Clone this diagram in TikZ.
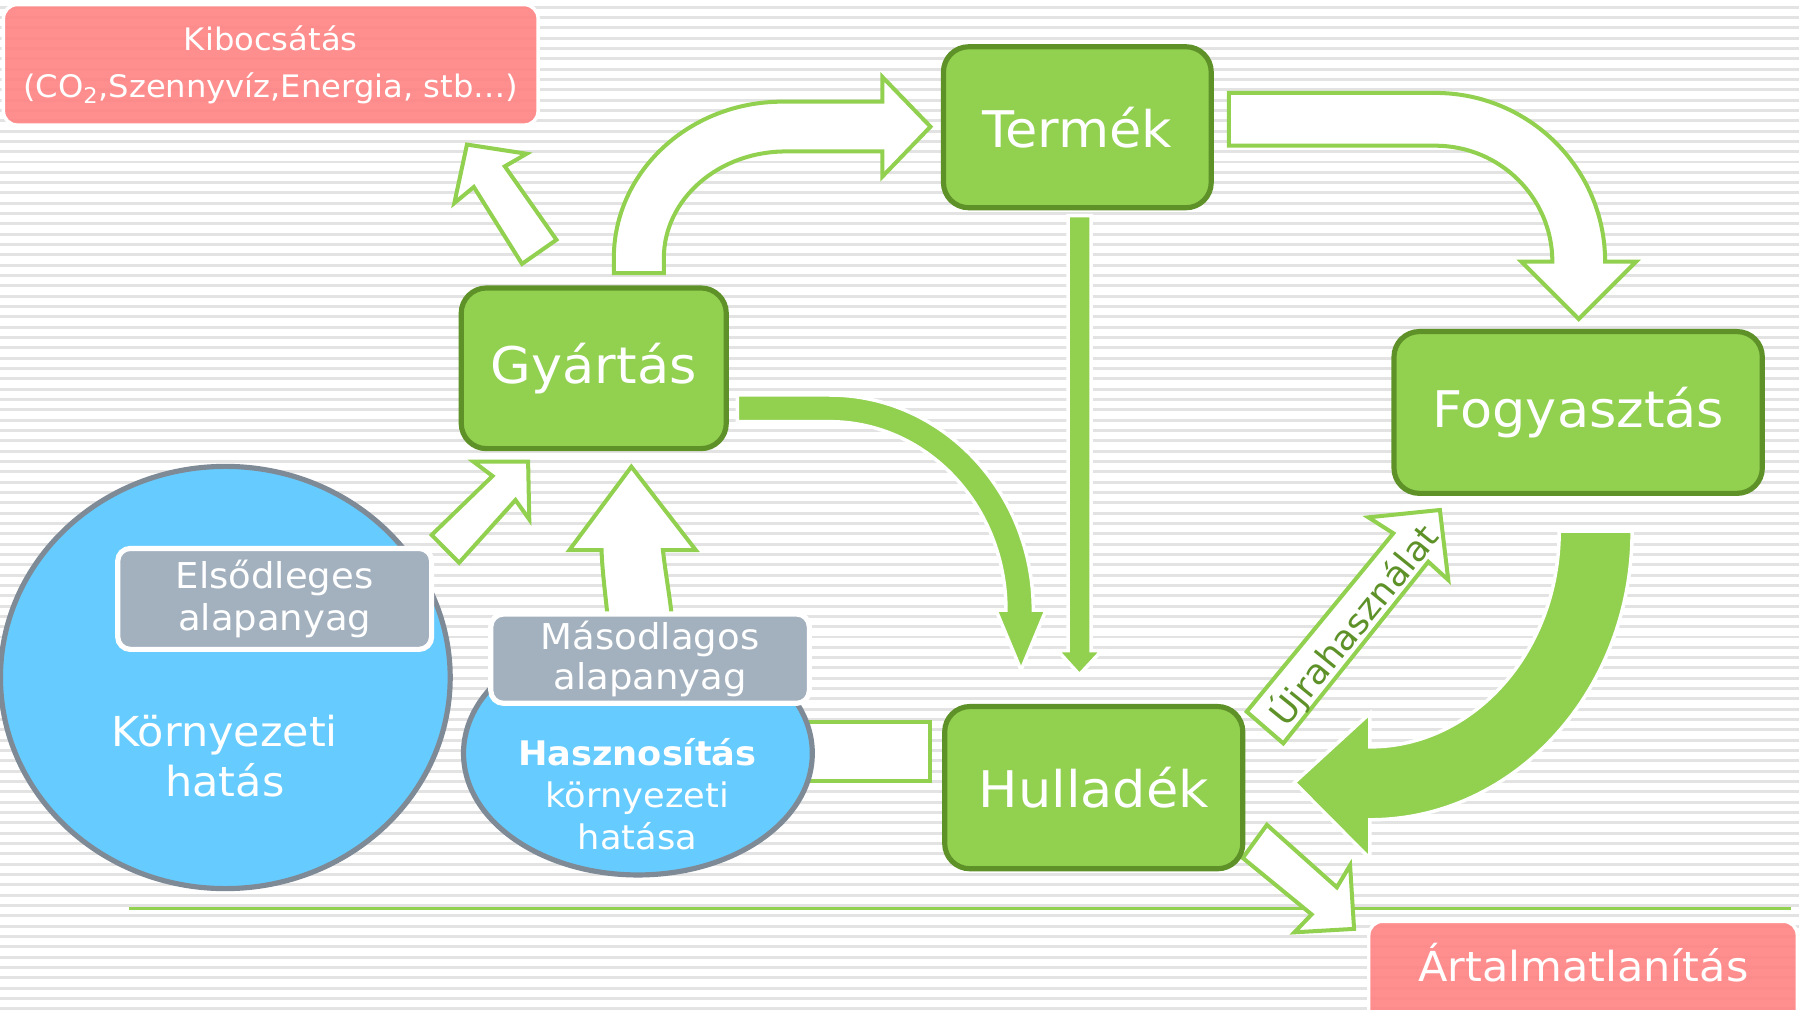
\documentclass[tikz,border=0pt]{standalone}
\usepackage{fontspec}
\setmainfont{DejaVu Sans}[FakeStretch=1.04]
\usetikzlibrary{shapes.geometric}
\definecolor{bggrey}{HTML}{E3E3E3}
\definecolor{lgreen}{HTML}{92D050}
\definecolor{dgreen}{HTML}{5E9229}
\definecolor{pinkc}{HTML}{FF8383}
\definecolor{bluec}{HTML}{66CCFF}
\definecolor{ellborder}{HTML}{7F8A97}
\definecolor{greyc}{HTML}{A3B1BF}
\begin{document}
\begin{tikzpicture}[x=1pt,y=-1pt,
  stripe/.style={draw=bggrey,line width=2.6pt},
  whitearrow/.style={fill=white,draw=lgreen,line width=3.5pt,line join=miter},
  greenarrow/.style={fill=lgreen,draw=white,line width=3pt,line join=miter},
  greenbox/.style={rectangle,rounded corners=22pt,fill=lgreen,draw=dgreen,line width=4.5pt,text=white,font=\fontsize{44}{50}\selectfont,inner sep=0pt},
  pinkbox/.style={rectangle,rounded corners=12pt,fill=pinkc,fill opacity=0.9,text opacity=1,draw=white,line width=3pt,text=white,inner sep=0pt},
  greybox/.style={rectangle,rounded corners=11pt,fill=greyc,draw=white,line width=4.5pt,text=white,inner sep=0pt},
  blueell/.style={ellipse,fill=bluec,draw=ellborder,line width=4.5pt,inner sep=0pt},
  lbl/.style={text=white,align=center,inner sep=0pt}]
\useasboundingbox (0,0) rectangle (1568,880);
\fill[white] (0,0) rectangle (1568,880);
\foreach \y in {6.2,15.2,...,880} \draw[stripe] (0,\y) -- (1568,\y);

% baseline
\coordinate (lineL) at (112,792);
\coordinate (lineR) at (1561,792);
\draw[lgreen,line width=2.5pt] (lineL) -- (lineR);

% Hulladek -> Hasznositas bar (behind ellipse)
\draw[whitearrow] (640,629) rectangle (810.6,680.4);

% ellipses
\node[blueell,minimum width=304pt,minimum height=212pt] (hasz) at (556,656.6) {};
\node[blueell,minimum width=392pt,minimum height=368pt] (korny) at (196.4,590.5) {};

% Masodlagos -> Gyartas arrow (tail behind box)
\draw[whitearrow] (550.3,406.8) -- (606.4,479.4) -- (577.8,479.4)
  .. controls (580,500) and (584,520) .. (586.4,545) -- (530.3,545)
  .. controls (528,520) and (525,500) .. (524.3,479.4) -- (496.3,479.4) -- cycle;

% grey boxes
\node[greybox,minimum width=273.6pt,minimum height=88pt,font=\fontsize{31}{37}\selectfont,align=center] (elso) at (239.4,522) {Elsődleges\\alapanyag};
\node[greybox,minimum width=277.6pt,minimum height=77.8pt,font=\fontsize{31}{35}\selectfont,align=center] (maso) at (566.6,574.1) {Másodlagos\\alapanyag};

% ellipse texts
\node[lbl,font=\fontsize{36}{43}\selectfont] (kh) at (196,659) {Környezeti\\hatás};
\node[lbl,font=\fontsize{29.5}{36.5}\selectfont] (hk) at (555.5,692) {\textbf{Hasznosítás}\\környezeti\\hatása};

% Elsodleges -> Gyartas
\draw[whitearrow] (460.3,402.4) -- (461.3,452.7) -- (449.3,435.8) -- (400.2,490.4)
  -- (376.2,466.3) -- (429.3,414.9) -- (412.7,402.4) -- cycle;

% Gyartas -> Kibocsatas
\draw[whitearrow] (407,126) -- (459,134) -- (440,145) -- (485,209) -- (455,230)
  -- (413,163) -- (396,177) -- cycle;

% Gyartas -> Termek curved
\draw[whitearrow] (535,238) -- (535,225) .. controls (535,149.7) and (600.8,88.6) .. (682,88.6)
  -- (769,88.6) -- (769,67) -- (811,110.4) -- (769,154) -- (769,132) -- (685,132)
  .. controls (626.2,132) and (578.6,173.6) .. (578.6,225) -- (578.6,238) -- cycle;

% Termek -> Fogyasztas curved
\draw[whitearrow] (1071,81) -- (1251,81) .. controls (1332.7,81) and (1399,146.8) .. (1399,228)
  -- (1426,228) -- (1376,278) -- (1326,228) -- (1353,228)
  .. controls (1353,172.2) and (1307.3,127) .. (1251,127) -- (1071,127) -- cycle;

% Gyartas -> Hulladek green
\draw[greenarrow] (642.6,344.3) -- (723,344.3) .. controls (821.1,344.3) and (900.6,428.2) .. (900.6,531.7)
  -- (911.7,531.7) -- (889.9,584) -- (868.1,531.7) -- (876.8,531.7)
  .. controls (876.8,441) and (807.9,367.5) .. (723,367.5) -- (642.6,367.5) -- cycle;

% Termek -> Hulladek green bar
\draw[greenarrow] (931,188) -- (951,188) -- (951,567) -- (960.3,567) -- (940.8,588)
  -- (921.8,567) -- (931,567) -- cycle;

% Fogyasztas -> Hulladek big green
\draw[greenarrow] (1359,463) -- (1422.5,463) .. controls (1422.5,601.9) and (1320.2,714.5) .. (1194,714.5)
  -- (1194,748.3) -- (1128.2,682) -- (1194,621.7) -- (1194,651)
  .. controls (1285.1,651) and (1359,566.8) .. (1359,463) -- cycle;

% Ujrahasznalat
\draw[whitearrow] (1086.6,620.3) -- (1214.4,464.8) -- (1192.6,450.9) -- (1255,444.5)
  -- (1262.3,505.5) -- (1244.9,489.6) -- (1118.5,647.9) -- cycle;
\node[text=dgreen,rotate=51,font=\fontsize{30}{34}\selectfont,inner sep=0pt] (ujra) at (1180,545) {Újrahasználat};

% Hulladek -> Artalmatlanitas
\draw[whitearrow] (1104.2,718.9) -- (1165.2,773.4) -- (1176.7,754.2) -- (1180.2,809.6)
  -- (1128.2,812.6) -- (1143.2,797) -- (1083.2,747.8) -- cycle;

% green boxes
\node[greenbox,minimum width=233.4pt,minimum height=140.3pt] (termek) at (939,110.9) {Termék};
\node[greenbox,minimum width=231pt,minimum height=140pt] (gyartas) at (517.5,321) {Gyártás};
\node[greenbox,minimum width=321pt,minimum height=141pt] (fogy) at (1375.5,359.5) {Fogyasztás};
\node[greenbox,minimum width=259.8pt,minimum height=141.4pt] (hull) at (953.3,686.5) {Hulladék};

% pink boxes
\node[pinkbox,minimum width=466pt,minimum height=105pt,font=\fontsize{27}{41}\selectfont,align=center] (kibo) at (236,56.5) {Kibocsátás\\(CO\textsubscript{2},Szennyvíz,Energia, stb…)};
\node[pinkbox,minimum width=373.5pt,minimum height=100pt] (artal) at (1379.75,853) {};
\node[lbl,font=\fontsize{36}{40}\selectfont] (artaltxt) at (1380,839) {Ártalmatlanítás};
\end{tikzpicture}
\end{document}
